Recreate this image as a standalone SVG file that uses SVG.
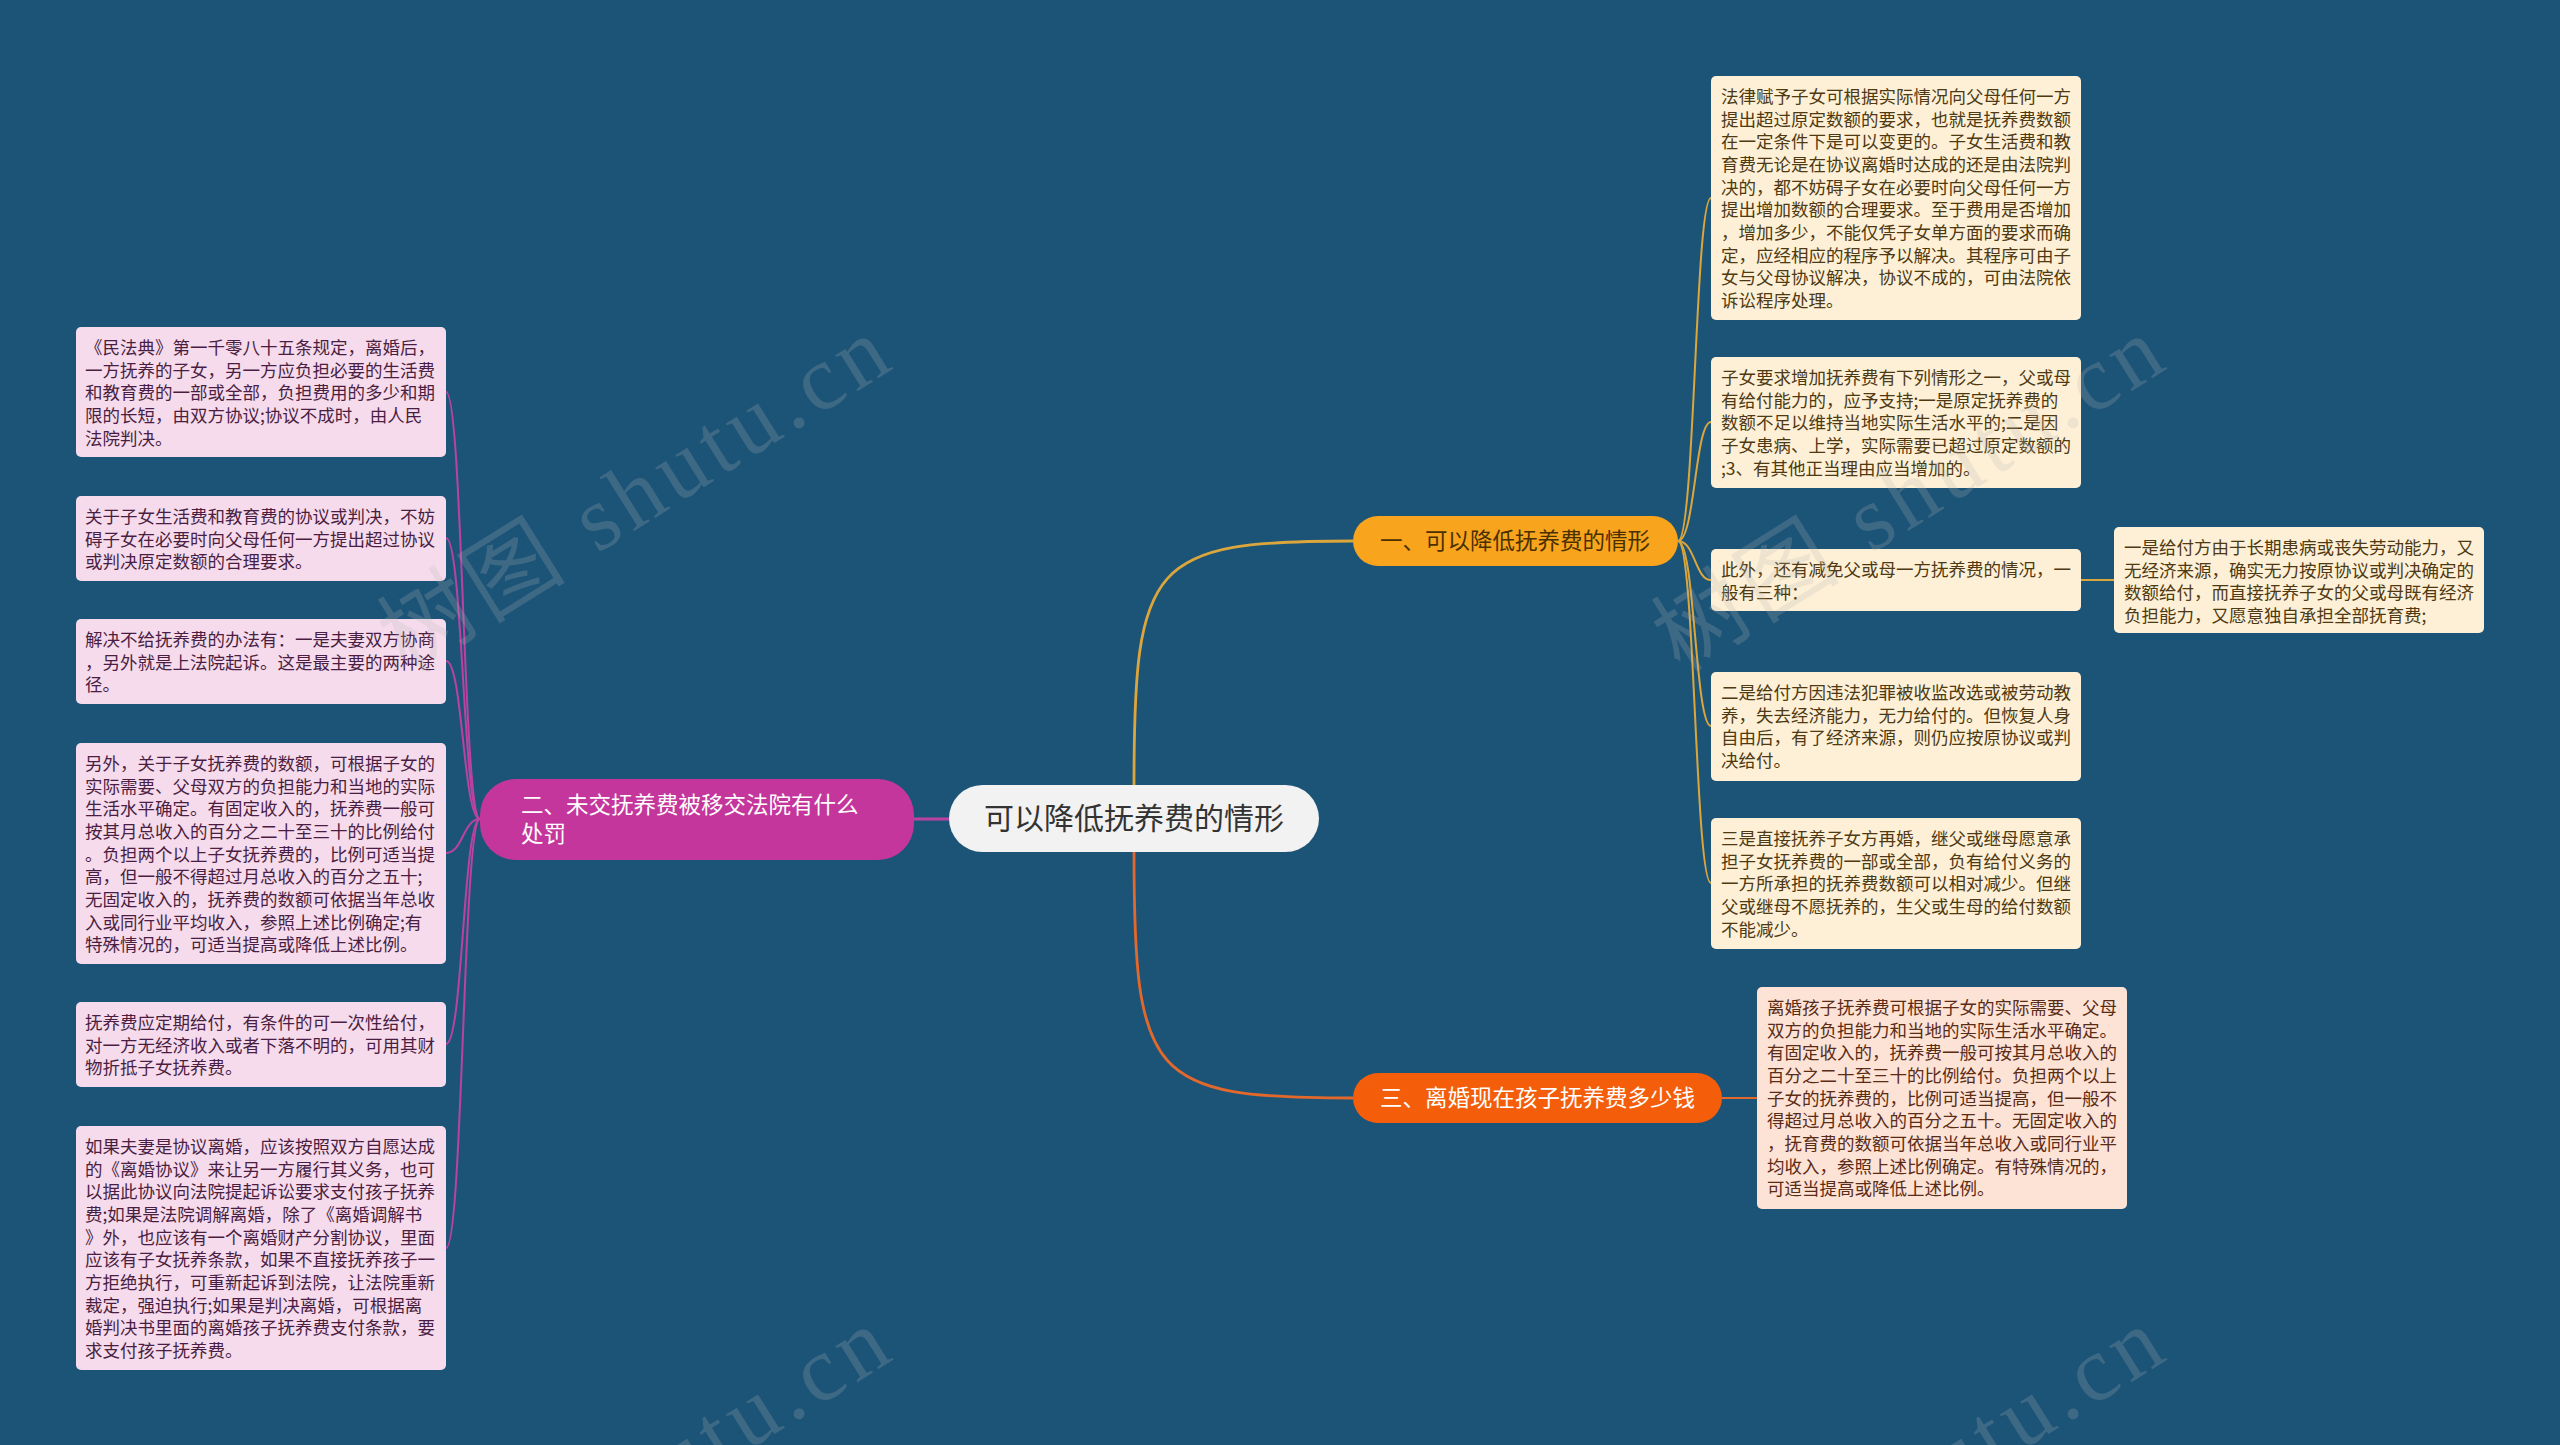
<svg xmlns="http://www.w3.org/2000/svg" width="2560" height="1445" viewBox="0 0 2560 1445">
<style>
text{font-family:"Noto Sans CJK SC","Noto Sans",sans-serif}
.box{font-size:17.5px}
.rc rect{fill:#fdf0d6}
.rc text{fill:#4e3912}
.pc rect{fill:#fde3d6}
.pc text{fill:#5a2b15}
.lc rect{fill:#f6dbec}
.lc text{fill:#4a1e42}
.conn path{fill:none}
.l1{stroke:#dba63c}
.l2{stroke:#bb42a3}
.l3{stroke:#e3682c}
.main{stroke-width:2.8}
.sub{stroke-width:2}
.wm{font-family:"Liberation Serif","Noto Sans CJK SC",serif;font-size:92px;fill:#b8b8b8;fill-opacity:0.22;letter-spacing:6px}
</style>
<rect x="0" y="0" width="2560" height="1445" fill="#1c5478"/>

<g id="connectors" class="conn">
  <path class="l1 main" d="M1134,785 C1134,560 1150,541 1353,541"/>
  <path class="l3 main" d="M1134,852 C1134,1080 1150,1098 1353,1098"/>
  <path class="l2 main" d="M914,819 L949,819"/>
  <path class="l1 sub" d="M1678,541 C1695,541 1695,198 1711,198"/>
  <path class="l1 sub" d="M1678,541 C1695,541 1695,422 1711,422"/>
  <path class="l1 sub" d="M1678,541 C1695,541 1695,580 1711,580"/>
  <path class="l1 sub" d="M1678,541 C1695,541 1695,726 1711,726"/>
  <path class="l1 sub" d="M1678,541 C1695,541 1695,883 1711,883"/>
  <path class="l1 sub" d="M2081,580 L2114,580"/>
  <path class="l3 sub" d="M1722,1098 L1757,1098"/>
  <path class="l2 sub" d="M480,819 C463,819 463,392 446,392"/>
  <path class="l2 sub" d="M480,819 C463,819 463,538 446,538"/>
  <path class="l2 sub" d="M480,819 C463,819 463,661 446,661"/>
  <path class="l2 sub" d="M480,819 C463,819 463,853 446,853"/>
  <path class="l2 sub" d="M480,819 C463,819 463,1044 446,1044"/>
  <path class="l2 sub" d="M480,819 C463,819 463,1248 446,1248"/>
</g>

<g id="root">
  <rect x="949" y="785" width="370" height="67" rx="33.5" fill="#f2f2f2"/>
  <text x="1134" y="829" font-size="30" fill="#333333" text-anchor="middle">可以降低抚养费的情形</text>
</g>

<g id="branch1">
  <rect x="1353" y="516" width="325" height="50" rx="25" fill="#f8a51d"/>
  <text x="1380" y="549" font-size="22.5" fill="#4a3000">一、可以降低抚养费的情形</text>
</g>
<g id="branch3">
  <rect x="1353" y="1073" width="369" height="50" rx="25" fill="#f45d0a"/>
  <text x="1380" y="1106" font-size="22.5" fill="#ffffff">三、离婚现在孩子抚养费多少钱</text>
</g>
<g id="branch2">
  <rect x="480" y="779" width="434" height="81" rx="36" fill="#c4369c"/>
  <text x="521" font-size="22.5" fill="#ffffff"><tspan x="521" y="813">二、未交抚养费被移交法院有什么</tspan><tspan x="521" y="842">处罚</tspan></text>
</g>

<g id="r1" class="rc box">
  <rect x="1711" y="76" width="370" height="244" rx="5"/>
  <text><tspan x="1721" y="102.8">法律赋予子女可根据实际情况向父母任何一方</tspan><tspan x="1721" y="125.5">提出超过原定数额的要求，也就是抚养费数额</tspan><tspan x="1721" y="148.2">在一定条件下是可以变更的。子女生活费和教</tspan><tspan x="1721" y="170.9">育费无论是在协议离婚时达成的还是由法院判</tspan><tspan x="1721" y="193.6">决的，都不妨碍子女在必要时向父母任何一方</tspan><tspan x="1721" y="216.3">提出增加数额的合理要求。至于费用是否增加</tspan><tspan x="1721" y="239">，增加多少，不能仅凭子女单方面的要求而确</tspan><tspan x="1721" y="261.7">定，应经相应的程序予以解决。其程序可由子</tspan><tspan x="1721" y="284.4">女与父母协议解决，协议不成的，可由法院依</tspan><tspan x="1721" y="307.1">诉讼程序处理。</tspan></text>
</g>
<g id="r2" class="rc box">
  <rect x="1711" y="357" width="370" height="131" rx="5"/>
  <text><tspan x="1721" y="383.8">子女要求增加抚养费有下列情形之一，父或母</tspan><tspan x="1721" y="406.5">有给付能力的，应予支持;一是原定抚养费的</tspan><tspan x="1721" y="429.2">数额不足以维持当地实际生活水平的;二是因</tspan><tspan x="1721" y="451.9">子女患病、上学，实际需要已超过原定数额的</tspan><tspan x="1721" y="474.6">;3、有其他正当理由应当增加的。</tspan></text>
</g>
<g id="r3" class="rc box">
  <rect x="1711" y="549" width="370" height="62" rx="5"/>
  <text><tspan x="1721" y="575.8">此外，还有减免父或母一方抚养费的情况，一</tspan><tspan x="1721" y="598.5">般有三种：</tspan></text>
</g>
<g id="r3a" class="rc box">
  <rect x="2114" y="527" width="370" height="106" rx="5"/>
  <text><tspan x="2124" y="553.8">一是给付方由于长期患病或丧失劳动能力，又</tspan><tspan x="2124" y="576.5">无经济来源，确实无力按原协议或判决确定的</tspan><tspan x="2124" y="599.2">数额给付，而直接抚养子女的父或母既有经济</tspan><tspan x="2124" y="621.9">负担能力，又愿意独自承担全部抚育费;</tspan></text>
</g>
<g id="r4" class="rc box">
  <rect x="1711" y="672" width="370" height="109" rx="5"/>
  <text><tspan x="1721" y="698.8">二是给付方因违法犯罪被收监改选或被劳动教</tspan><tspan x="1721" y="721.5">养，失去经济能力，无力给付的。但恢复人身</tspan><tspan x="1721" y="744.2">自由后，有了经济来源，则仍应按原协议或判</tspan><tspan x="1721" y="766.9">决给付。</tspan></text>
</g>
<g id="r5" class="rc box">
  <rect x="1711" y="818" width="370" height="131" rx="5"/>
  <text><tspan x="1721" y="844.8">三是直接抚养子女方再婚，继父或继母愿意承</tspan><tspan x="1721" y="867.5">担子女抚养费的一部或全部，负有给付义务的</tspan><tspan x="1721" y="890.2">一方所承担的抚养费数额可以相对减少。但继</tspan><tspan x="1721" y="912.9">父或继母不愿抚养的，生父或生母的给付数额</tspan><tspan x="1721" y="935.6">不能减少。</tspan></text>
</g>
<g id="p1" class="pc box">
  <rect x="1757" y="987" width="370" height="222" rx="5"/>
  <text><tspan x="1767" y="1013.8">离婚孩子抚养费可根据子女的实际需要、父母</tspan><tspan x="1767" y="1036.5">双方的负担能力和当地的实际生活水平确定。</tspan><tspan x="1767" y="1059.2">有固定收入的，抚养费一般可按其月总收入的</tspan><tspan x="1767" y="1081.9">百分之二十至三十的比例给付。负担两个以上</tspan><tspan x="1767" y="1104.6">子女的抚养费的，比例可适当提高，但一般不</tspan><tspan x="1767" y="1127.3">得超过月总收入的百分之五十。无固定收入的</tspan><tspan x="1767" y="1150">，抚育费的数额可依据当年总收入或同行业平</tspan><tspan x="1767" y="1172.7">均收入，参照上述比例确定。有特殊情况的，</tspan><tspan x="1767" y="1195.4">可适当提高或降低上述比例。</tspan></text>
</g>

<g id="l1" class="lc box">
  <rect x="76" y="327" width="370" height="130" rx="5"/>
  <text><tspan x="85" y="353.8">《民法典》第一千零八十五条规定，离婚后，</tspan><tspan x="85" y="376.5">一方抚养的子女，另一方应负担必要的生活费</tspan><tspan x="85" y="399.2">和教育费的一部或全部，负担费用的多少和期</tspan><tspan x="85" y="421.9">限的长短，由双方协议;协议不成时，由人民</tspan><tspan x="85" y="444.6">法院判决。</tspan></text>
</g>
<g id="l2" class="lc box">
  <rect x="76" y="496" width="370" height="85" rx="5"/>
  <text><tspan x="85" y="522.8">关于子女生活费和教育费的协议或判决，不妨</tspan><tspan x="85" y="545.5">碍子女在必要时向父母任何一方提出超过协议</tspan><tspan x="85" y="568.2">或判决原定数额的合理要求。</tspan></text>
</g>
<g id="l3" class="lc box">
  <rect x="76" y="619" width="370" height="85" rx="5"/>
  <text><tspan x="85" y="645.8">解决不给抚养费的办法有：一是夫妻双方协商</tspan><tspan x="85" y="668.5">，另外就是上法院起诉。这是最主要的两种途</tspan><tspan x="85" y="691.2">径。</tspan></text>
</g>
<g id="l4" class="lc box">
  <rect x="76" y="743" width="370" height="221" rx="5"/>
  <text><tspan x="85" y="769.8">另外，关于子女抚养费的数额，可根据子女的</tspan><tspan x="85" y="792.5">实际需要、父母双方的负担能力和当地的实际</tspan><tspan x="85" y="815.2">生活水平确定。有固定收入的，抚养费一般可</tspan><tspan x="85" y="837.9">按其月总收入的百分之二十至三十的比例给付</tspan><tspan x="85" y="860.6">。负担两个以上子女抚养费的，比例可适当提</tspan><tspan x="85" y="883.3">高，但一般不得超过月总收入的百分之五十;</tspan><tspan x="85" y="906">无固定收入的，抚养费的数额可依据当年总收</tspan><tspan x="85" y="928.7">入或同行业平均收入，参照上述比例确定;有</tspan><tspan x="85" y="951.4">特殊情况的，可适当提高或降低上述比例。</tspan></text>
</g>
<g id="l5" class="lc box">
  <rect x="76" y="1002" width="370" height="85" rx="5"/>
  <text><tspan x="85" y="1028.8">抚养费应定期给付，有条件的可一次性给付，</tspan><tspan x="85" y="1051.5">对一方无经济收入或者下落不明的，可用其财</tspan><tspan x="85" y="1074.2">物折抵子女抚养费。</tspan></text>
</g>
<g id="l6" class="lc box">
  <rect x="76" y="1126" width="370" height="244" rx="5"/>
  <text><tspan x="85" y="1152.8">如果夫妻是协议离婚，应该按照双方自愿达成</tspan><tspan x="85" y="1175.5">的《离婚协议》来让另一方履行其义务，也可</tspan><tspan x="85" y="1198.2">以据此协议向法院提起诉讼要求支付孩子抚养</tspan><tspan x="85" y="1220.9">费;如果是法院调解离婚，除了《离婚调解书</tspan><tspan x="85" y="1243.6">》外，也应该有一个离婚财产分割协议，里面</tspan><tspan x="85" y="1266.3">应该有子女抚养条款，如果不直接抚养孩子一</tspan><tspan x="85" y="1289">方拒绝执行，可重新起诉到法院，让法院重新</tspan><tspan x="85" y="1311.7">裁定，强迫执行;如果是判决离婚，可根据离</tspan><tspan x="85" y="1334.4">婚判决书里面的离婚孩子抚养费支付条款，要</tspan><tspan x="85" y="1357.1">求支付孩子抚养费。</tspan></text>
</g>

<g id="watermark">
  <text class="wm" x="653" y="519" text-anchor="middle" transform="rotate(-32 653 519)">树图 shutu.cn</text>
  <text class="wm" x="1927" y="519" text-anchor="middle" transform="rotate(-32 1927 519)">树图 shutu.cn</text>
  <text class="wm" x="653" y="1510" text-anchor="middle" transform="rotate(-32 653 1510)">树图 shutu.cn</text>
  <text class="wm" x="1927" y="1510" text-anchor="middle" transform="rotate(-32 1927 1510)">树图 shutu.cn</text>
</g>
</svg>
